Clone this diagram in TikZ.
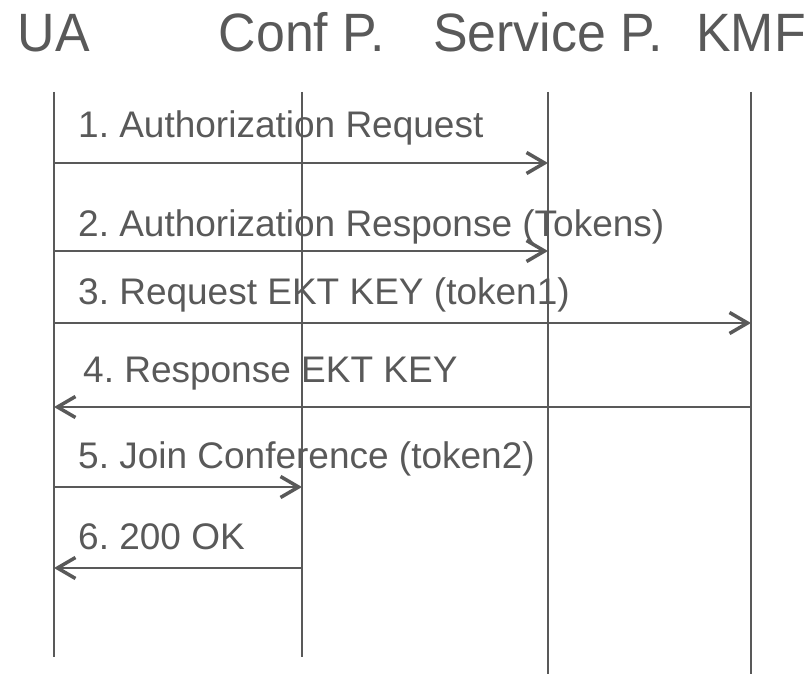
\documentclass[tikz,border=0pt]{standalone}
\usepackage{fontspec}
\setmainfont{Liberation Sans}
\newfontfamily\headfont[FakeStretch=0.96]{Liberation Sans}
\usetikzlibrary{arrows.meta}
\usetikzlibrary{calc,positioning}

\definecolor{ink}{RGB}{89,89,89}
\frenchspacing

\begin{document}
\begin{tikzpicture}[x=1pt,y=-1pt]
    \def\lineTop{92}
    \def\textLeft{78}

    \tikzstyle{party}=[text=ink,inner sep=0pt,anchor=base,font=\headfont\fontsize{54}{60}\selectfont]
    \tikzstyle{msgtext}=[text=ink,inner sep=0pt,anchor=base west,font=\fontsize{37}{40}\selectfont]
    \tikzstyle{lifeline}=[draw=ink,line width=2pt]
    \tikzstyle{msg}=[draw=ink,line width=2pt,-{Straight Barb[length=18pt,width=21pt,line width=3.5pt]}]

    \useasboundingbox (0,0) rectangle (806,676);

    % Parties
    \node[party] (UA) at (54,52) {UA};
    \node[party] (CP) at (302,52) {Conf P.};
    \node[party] (SP) at (548,52) {Service P.};
    \node[party] (KMF) at (751,52) {KMF};

    % Lifelines
    \coordinate (top) at (0,\lineTop);
    \coordinate (short) at (0,657);
    \coordinate (long) at (0,674);
    \draw[lifeline] (UA |- top) -- (UA |- short);
    \draw[lifeline] (CP |- top) -- (CP |- short);
    \draw[lifeline] (SP |- top) -- (SP |- long);
    \draw[lifeline] (KMF |- top) -- (KMF |- long);

    % Message rows
    \coordinate (m1) at (0,163);
    \coordinate (m2) at (0,251);
    \coordinate (m3) at (0,323);
    \coordinate (m4) at (0,407);
    \coordinate (m5) at (0,487);
    \coordinate (m6) at (0,568);

    % Messages
    \node[msgtext] (t1) at (\textLeft,138) {1. Authorization Request};
    \draw[msg] (UA |- m1) -- (SP |- m1);
    \node[msgtext] (t2) at (\textLeft,237) {2. Authorization Response (Tokens)};
    \draw[msg] (UA |- m2) -- (SP |- m2);
    \node[msgtext] (t3) at (\textLeft,305) {3. Request EKT KEY (token1)};
    \draw[msg] (UA |- m3) -- (KMF |- m3);
    \node[msgtext] (t4) at (\textLeft+5,382) {4. Response EKT KEY};
    \draw[msg] (KMF |- m4) -- (UA |- m4);
    \node[msgtext] (t5) at (\textLeft,468) {5. Join Conference (token2)};
    \draw[msg] (UA |- m5) -- (CP |- m5);
    \node[msgtext] (t6) at (\textLeft,549) {6. 200 OK};
    \draw[msg] (CP |- m6) -- (UA |- m6);
\end{tikzpicture}
\end{document}
